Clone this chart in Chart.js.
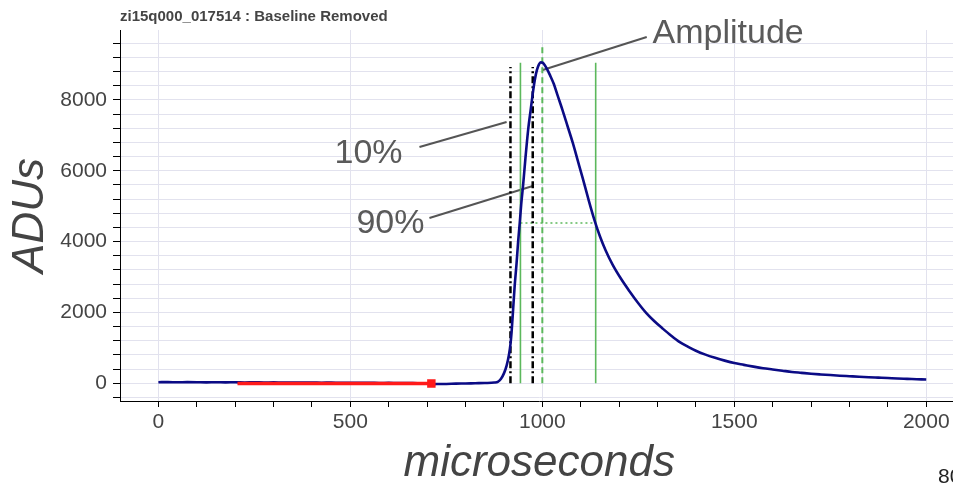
<!DOCTYPE html>
<html>
<head>
<meta charset="utf-8">
<script src="https://cdn.jsdelivr.net/npm/chart.js@4/dist/chart.umd.min.js"></script>
<style>
  html, body { margin: 0; padding: 0; overflow: hidden; background: #fff; }
  canvas { display: block; }
</style>
</head>
<body>
<canvas id="pulse" width="966" height="490"></canvas>
<script>
// waveform (microseconds, ADUs)
const timeUs = [0, 25, 50, 75, 100, 125, 150, 175, 200, 225, 250, 275, 300, 325, 350, 375, 400, 425, 450, 475,
  500, 525, 550, 575, 600, 625, 650, 675, 700, 712, 725, 750, 775, 800, 825, 850, 875, 884, 892, 900,
  907, 913, 917, 920, 924, 928, 933, 937, 941, 945, 950, 956, 963, 970, 976, 981, 986, 991, 996, 1001,
  1006, 1012, 1020, 1030, 1040, 1053, 1066, 1079, 1092, 1105, 1120, 1136, 1150, 1165, 1183, 1205, 1227, 1250, 1271, 1292,
  1313, 1335, 1357, 1380, 1400, 1425, 1450, 1475, 1500, 1525, 1550, 1575, 1600, 1625, 1650, 1675, 1700, 1725, 1750, 1775,
  1800, 1825, 1850, 1875, 1900, 1925, 1950, 1975, 2000];
const adus = [30, 34, 28, 32, 30, 26, 31, 27, 29, 24, 27, 22, 25, 20, 23, 18, 21, 16, 19, 14,
  17, 12, 14, 9, 11, 6, 7, 3, 2, -28, -22, -18, -10, -5, 2, 8, 20, 40, 120, 280,
  500, 800, 1100, 1450, 2100, 2750, 3400, 4000, 4500, 5050, 5600, 6350, 7150, 7750, 8250, 8600, 8850, 9000, 9060, 9050,
  8990, 8880, 8700, 8450, 8120, 7700, 7250, 6800, 6300, 5800, 5200, 4600, 4150, 3750, 3350, 2950, 2600, 2260, 1980, 1750,
  1550, 1350, 1170, 1030, 920, 810, 720, 640, 570, 520, 470, 425, 390, 355, 320, 295, 270, 250, 232, 215,
  200, 185, 172, 160, 148, 135, 125, 115, 105];

// baseline window (red)
const baselineUs = [206, 711];
const baselineAdu = [-5, -5];

// rise / width markers
const tenPctUs = 917;
const ninetyPctUs = 975;
const riseTopAdu = 8930;
const halfLeftUs = 943;
const halfRightUs = 1139;
const amplitudeAdu = 9050;
const halfMaxAdu = 4525;
const peakUs = 1000;
const peakTopAdu = 9550;

// annotation labels and their pointer lines
const noteText = ['Amplitude', '10%', '90%'];
const noteUs = [1287, 636, 693];
const noteAdu = [9608, 6220, 4243];
const pointerFromUs = [1272, 680, 706];
const pointerFromAdu = [9777, 6670, 4667];
const pointerToUs = [1001, 907, 975];
const pointerToAdu = [8845, 7376, 5572];

// axes
const xMin = -100, xMax = 2084, xStep = 100, xLabelEvery = 500;
const yMin = -500, yMax = 9975, yStep = 400, yLabelEvery = 2000;

const titleText = 'zi15q000_017514 : Baseline Removed';

function pts(xs, ys) {
  return xs.map((x, i) => ({ x: x, y: ys[i] }));
}
function range(a, b, s) {
  const out = [];
  for (let v = a; v <= b; v += s) out.push({ value: v });
  return out;
}

const gridCol = '#e2e2ee';
const txtCol = '#444';
const fam = '"Liberation Sans", Arial, sans-serif';

const datasets = [
  {
    data: pts(baselineUs, baselineAdu),
    borderColor: '#ff1a1a', backgroundColor: '#ff1a1a', borderWidth: 3.5,
    pointStyle: 'rect', pointRadius: [0, 3.5]
  },
  {
    data: pts(timeUs, adus),
    borderColor: '#0b0b85', borderWidth: 2.6, pointRadius: 0,
    cubicInterpolationMode: 'monotone'
  },
  {
    data: pts([tenPctUs, tenPctUs], [0, riseTopAdu]),
    borderColor: '#000', borderWidth: 2.5, borderDash: [7, 3, 2, 3], pointRadius: 0
  },
  {
    data: pts([ninetyPctUs, ninetyPctUs], [0, riseTopAdu]),
    borderColor: '#000', borderWidth: 2.5, borderDash: [7, 3, 2, 3], pointRadius: 0
  },
  {
    data: pts([halfLeftUs, halfLeftUs], [0, amplitudeAdu]),
    borderColor: '#5cb85c', borderWidth: 1.6, pointRadius: 0
  },
  {
    data: pts([halfRightUs, halfRightUs], [0, amplitudeAdu]),
    borderColor: '#5cb85c', borderWidth: 1.6, pointRadius: 0
  },
  {
    data: pts([peakUs, peakUs], [0, peakTopAdu]),
    borderColor: '#5cb85c', borderWidth: 2, borderDash: [6, 4], pointRadius: 0
  },
  {
    data: pts([halfLeftUs, halfRightUs], [halfMaxAdu, halfMaxAdu]),
    borderColor: '#5cb85c', borderWidth: 1.5, borderDash: [2, 3], pointRadius: 0
  }
];
noteText.forEach((t, i) => {
  datasets.push({
    data: pts([pointerFromUs[i], pointerToUs[i]], [pointerFromAdu[i], pointerToAdu[i]]),
    borderColor: '#555', borderWidth: 2, pointRadius: 0
  });
});

// labels that Chart.js has no element for
const notesPlugin = {
  id: 'notes',
  afterDatasetsDraw(chart) {
    const c = chart.ctx, xs = chart.scales.x, ys = chart.scales.y;
    c.save();
    c.fillStyle = '#5a5a5a';
    c.font = '34px ' + fam;
    c.textBaseline = 'alphabetic';
    noteText.forEach((t, i) => {
      c.textAlign = noteUs[i] > pointerToUs[i] ? 'left' : 'right';
      c.fillText(t, xs.getPixelForValue(noteUs[i]), ys.getPixelForValue(noteAdu[i]));
    });
    c.fillStyle = txtCol;
    c.font = 'bold 15px ' + fam;
    c.textAlign = 'left';
    c.fillText(titleText, chart.chartArea.left, 21);
    c.fillStyle = '#222';
    c.font = '21px ' + fam;
    c.textBaseline = 'top';
    c.fillText('80', 938, 467);
    c.restore();
  }
};

new Chart(document.getElementById('pulse'), {
  type: 'line',
  data: { datasets: datasets },
  plugins: [notesPlugin],
  options: {
    responsive: false,
    animation: false,
    devicePixelRatio: 1,
    layout: { padding: { top: 30, left: 0, right: 0, bottom: 0 } },
    plugins: { legend: { display: false }, tooltip: { enabled: false }, title: { display: false } },
    elements: { line: { tension: 0 } },
    scales: {
      x: {
        type: 'linear', min: xMin, max: xMax,
        afterBuildTicks: (axis) => { axis.ticks = range(0, 2000, xStep); },
        afterFit: (scale) => { scale.height = 89; },
        border: { display: true, color: '#000', width: 1 },
        grid: {
          color: (ctx) => (ctx.tick && ctx.tick.value % xLabelEvery === 0) ? gridCol : 'rgba(0,0,0,0)',
          tickColor: '#000', tickLength: 6, lineWidth: 1
        },
        ticks: {
          maxRotation: 0, autoSkip: false, padding: 3, color: txtCol,
          font: { size: 21, family: fam },
          callback: (v) => v % xLabelEvery === 0 ? String(v) : ''
        },
        title: {
          display: true, text: 'microseconds', color: txtCol,
          font: { size: 44, style: 'italic', lineHeight: 1, family: fam },
          padding: { top: 0, bottom: 4 }
        }
      },
      y: {
        type: 'linear', min: yMin, max: yMax,
        afterBuildTicks: (axis) => { axis.ticks = range(-400, 9600, yStep); },
        afterFit: (scale) => { scale.width = 120; },
        border: { display: true, color: '#000', width: 1 },
        grid: { color: gridCol, tickColor: '#000', tickLength: 7, lineWidth: 1 },
        ticks: {
          autoSkip: false, padding: 6, color: txtCol,
          font: { size: 21, family: fam },
          callback: (v) => v % yLabelEvery === 0 ? String(v) : ''
        },
        title: {
          display: true, text: 'ADUs', color: txtCol,
          font: { size: 44, style: 'italic', lineHeight: 1, family: fam },
          padding: { top: 9, bottom: 0 }
        }
      }
    }
  }
});
</script>
</body>
</html>
